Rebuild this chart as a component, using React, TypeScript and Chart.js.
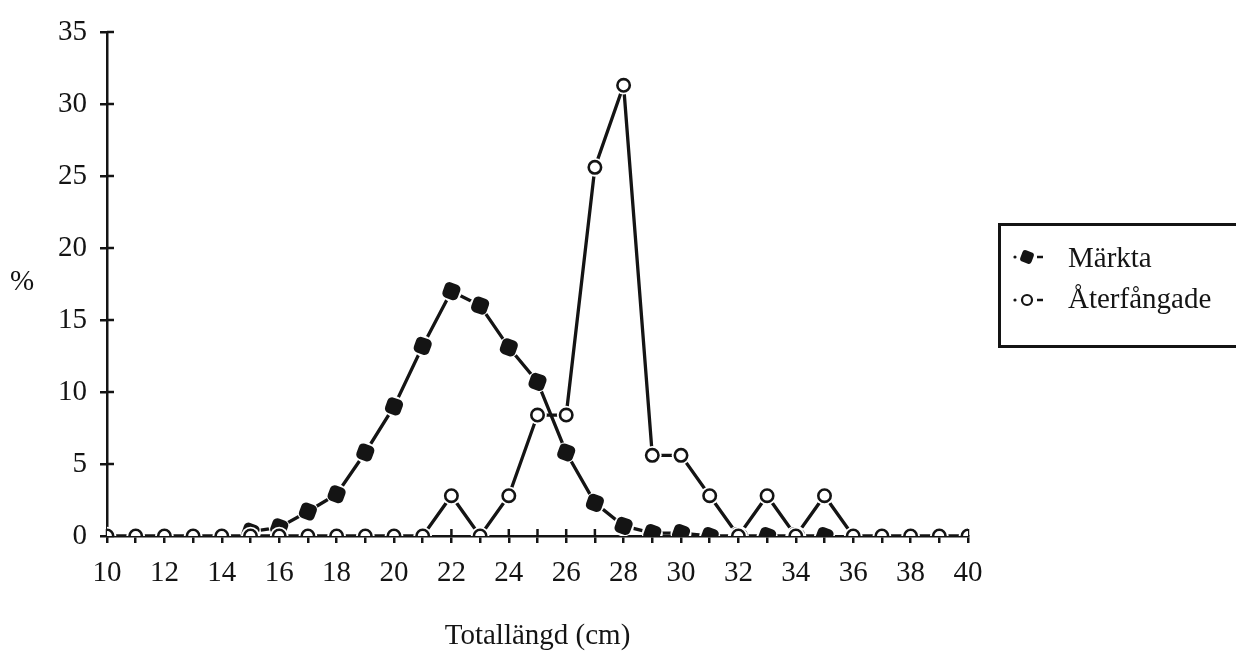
import React, { useEffect, useRef } from "react";
import { Chart, registerables } from "chart.js";

Chart.register(...registerables);

// ---- data ----
const lengthsCm = [10, 11, 12, 13, 14, 15, 16, 17, 18, 19, 20, 21, 22, 23, 24, 25, 26, 27, 28, 29, 30, 31, 32, 33, 34, 35, 36, 37, 38, 39, 40];
const markedPct = [null, null, null, null, null, 0.3, 0.6, 1.7, 2.9, 5.8, 9.0, 13.2, 17.0, 16.0, 13.1, 10.7, 5.8, 2.3, 0.7, 0.2, 0.2, 0, 0, 0, 0, 0, null, null, null, null, null];
const recapturedPct = [0, 0, 0, 0, 0, 0, 0, 0, 0, 0, 0, 0, 2.8, 0, 2.8, 8.4, 8.4, 25.6, 31.3, 5.6, 5.6, 2.8, 0, 2.8, 0, 2.8, 0, 0, 0, 0, 0];
const xTickLabels = ["10", "12", "14", "16", "18", "20", "22", "24", "26", "28", "30", "32", "34", "36", "38", "40"];
const yTickValues = [0, 5, 10, 15, 20, 25, 30, 35];
const seriesNames = ["Märkta", "Återfångade"];
const xAxisTitle = "Totallängd (cm)";
const yAxisTitle = "%";

const INK = "#141414";
const FONT = "'Liberation Serif', 'Times New Roman', serif";

const innerTicks = {
  id: "innerTicks",
  beforeDatasetsDraw(chart: any) {
    const { ctx, scales, chartArea } = chart;
    const x = scales.x;
    const y = scales.y;
    ctx.save();
    ctx.strokeStyle = INK;
    ctx.lineWidth = 2.5;
    y.ticks.forEach((t: any) => {
      const py = y.getPixelForValue(t.value);
      ctx.beginPath();
      ctx.moveTo(chartArea.left, py);
      ctx.lineTo(chartArea.left + 7, py);
      ctx.stroke();
    });
    x.ticks.forEach((t: any) => {
      const px = x.getPixelForValue(t.value);
      ctx.beginPath();
      ctx.moveTo(px, chartArea.bottom);
      ctx.lineTo(px, chartArea.bottom - 7);
      ctx.stroke();
    });
    ctx.restore();
  },
};

function LegendSymbol({ filled }: { filled: boolean }) {
  return (
    <svg width="34" height="18" viewBox="0 0 34 18" style={{ display: "block" }}>
      <circle cx="3" cy="9" r="1.6" fill={INK} />
      {filled ? (
        <rect x="9" y="3" width="12" height="12" rx="3" fill={INK} transform="rotate(20 15 9)" />
      ) : (
        <circle cx="15" cy="9" r="5" fill="#fff" stroke={INK} strokeWidth="2.2" />
      )}
      <line x1="25" y1="9" x2="31" y2="9" stroke={INK} strokeWidth="2.5" />
    </svg>
  );
}

const pts = (vals: (number | null)[]) => lengthsCm.map((x, i) => ({ x, y: vals[i] }));

export default function App() {
  const canvasRef = useRef<HTMLCanvasElement | null>(null);

  useEffect(() => {
    document.body.style.margin = "0";
    const canvas = canvasRef.current;
    if (!canvas) return;
    const lineOnly = { borderColor: INK, borderWidth: 3.3, pointRadius: 0, tension: 0, showLine: true };
    const halo = { showLine: false, pointStyle: "circle", pointBackgroundColor: "#ffffff", pointBorderWidth: 0, pointBorderColor: "#ffffff" };
    const chart = new Chart(canvas, {
      type: "line",
      data: {
        datasets: [
          // markers: recaptured (top)
          {
            label: seriesNames[1],
            data: pts(recapturedPct),
            showLine: false,
            pointStyle: "circle",
            pointRadius: 6.2,
            pointBorderWidth: 2.6,
            pointBackgroundColor: "#ffffff",
            pointBorderColor: INK,
            order: 1,
          },
          { label: seriesNames[1] + " halo", data: pts(recapturedPct), ...halo, pointRadius: 9.3, order: 2 },
          // markers: marked
          {
            label: seriesNames[0],
            data: pts(markedPct),
            showLine: false,
            pointStyle: "rectRounded",
            pointRotation: 20,
            pointRadius: 9.5,
            pointBorderWidth: 0,
            pointBackgroundColor: INK,
            pointBorderColor: INK,
            order: 3,
          },
          { label: seriesNames[0] + " halo", data: pts(markedPct), ...halo, pointRadius: 10.5, order: 4 },
          // lines
          { label: seriesNames[1] + " line", data: pts(recapturedPct), ...lineOnly, order: 5 },
          { label: seriesNames[0] + " line", data: pts(markedPct), ...lineOnly, spanGaps: false, order: 6 },
        ] as any,
      },
      options: {
        animation: false,
        responsive: false,
        events: [],
        layout: { padding: { left: 0, top: 32, right: 268, bottom: 0 } },
        plugins: {
          legend: { display: false },
          tooltip: { enabled: false },
        },
        scales: {
          x: {
            type: "linear",
            min: 10,
            max: 40,
            afterFit: (s: any) => {
              s.height = 121;
            },
            afterBuildTicks: (s: any) => {
              s.ticks = lengthsCm.map((v) => ({ value: v }));
            },
            border: { display: true, color: INK, width: 2.5 },
            grid: { display: true, drawOnChartArea: false, drawTicks: true, tickLength: 7, color: INK, lineWidth: 2.5 },
            ticks: {
              autoSkip: false,
              maxRotation: 0,
              padding: 13,
              color: INK,
              font: { family: FONT, size: 29 },
              callback: (v: any) => (xTickLabels.includes(String(v)) ? String(v) : ""),
            },
            title: {
              display: true,
              text: xAxisTitle,
              color: INK,
              font: { family: FONT, size: 29 },
              padding: { top: 0, bottom: 3 },
            },
          },
          y: {
            type: "linear",
            min: 0,
            max: 35,
            afterFit: (s: any) => {
              s.width = 107;
            },
            afterBuildTicks: (s: any) => {
              s.ticks = yTickValues.map((v) => ({ value: v }));
            },
            border: { display: true, color: INK, width: 2.5 },
            grid: { display: true, drawOnChartArea: false, drawTicks: true, tickLength: 7, color: INK, lineWidth: 2.5 },
            ticks: {
              padding: 13,
              color: INK,
              font: { family: FONT, size: 29 },
            },
          },
        },
      } as any,
      plugins: [innerTicks],
    });
    return () => chart.destroy();
  }, []);

  return (
    <div style={{ position: "absolute", left: 0, top: 0, width: 1236, height: 657, overflow: "hidden", background: "#fff", fontFamily: FONT, color: INK }}>
      <canvas ref={canvasRef} width={1236} height={657} style={{ position: "absolute", left: 0, top: 0 }} />
      <div style={{ position: "absolute", left: 10, top: 266, fontSize: 29, lineHeight: "29px" }}>{yAxisTitle}</div>
      <div style={{ position: "absolute", left: 998, top: 223, width: 260, height: 119, border: `3px solid ${INK}` }} />
      <div style={{ position: "absolute", left: 1012, top: 248 }}>
        <LegendSymbol filled={true} />
      </div>
      <div style={{ position: "absolute", left: 1068, top: 243, fontSize: 29, lineHeight: "29px", whiteSpace: "nowrap" }}>{seriesNames[0]}</div>
      <div style={{ position: "absolute", left: 1012, top: 291 }}>
        <LegendSymbol filled={false} />
      </div>
      <div style={{ position: "absolute", left: 1068, top: 284, fontSize: 29, lineHeight: "29px", whiteSpace: "nowrap" }}>{seriesNames[1]}</div>
    </div>
  );
}
